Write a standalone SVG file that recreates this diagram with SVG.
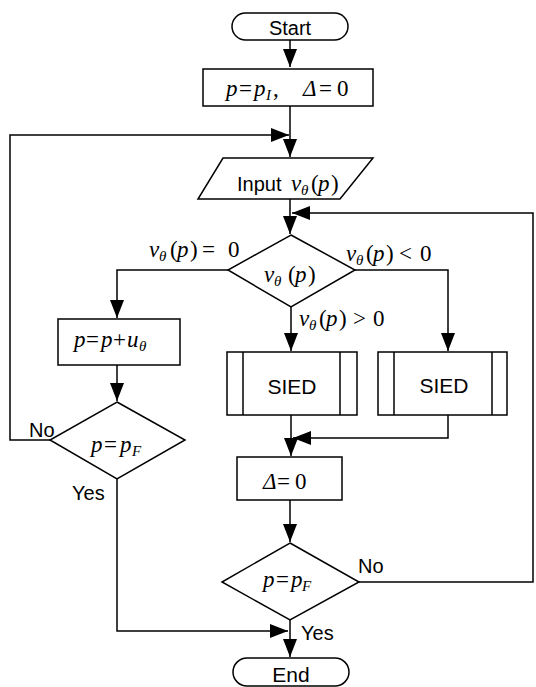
<svg xmlns="http://www.w3.org/2000/svg" width="536" height="687" viewBox="0 0 536 687">
  <defs>
    <marker id="arr" viewBox="0 0 18 14" refX="18" refY="7" markerWidth="18" markerHeight="14" markerUnits="userSpaceOnUse" orient="auto">
      <path d="M0,0 L18,7 L0,14 Z" fill="#000"/>
    </marker>
    <style>
      .shape { fill: #fff; stroke: #000; stroke-width: 1.5; }
      .line { fill: none; stroke: #000; stroke-width: 1.5; }
      .flow { fill: none; stroke: #000; stroke-width: 1.5; marker-end: url(#arr); }
      .sans { font-family: "Liberation Sans", Arial, sans-serif; font-size: 20px; fill: #000; }
      .big { font-size: 21px; }
      .math { font-family: "Liberation Serif", "Times New Roman", serif; font-size: 23px; fill: #000; }
      .it { font-style: italic; }
      .sub { font-size: 15px; font-style: italic; }
    </style>
  </defs>
  <rect width="536" height="687" fill="#fff"/>

  <!-- connectors -->
  <g id="connectors">
    <line class="flow" x1="290" y1="40" x2="290" y2="67"/>
    <line class="flow" x1="290" y1="106" x2="290" y2="157"/>
    <polyline class="flow" points="50,440 10,440 10,135 289,135"/>
    <line class="flow" x1="290" y1="199" x2="290" y2="234"/>
    <polyline class="flow" points="359,582 533,582 533,213 292,213"/>
    <polyline class="flow" points="228,270 117,270 117,318"/>
    <line class="flow" x1="117" y1="365" x2="117" y2="401"/>
    <line class="flow" x1="291" y1="307" x2="291" y2="351"/>
    <polyline class="flow" points="355,270 448,270 448,351"/>
    <line class="flow" x1="291" y1="415" x2="291" y2="456"/>
    <polyline class="flow" points="448,415 448,438 293,438"/>
    <line class="flow" x1="290" y1="500" x2="290" y2="542"/>
    <polyline class="flow" points="117,479 117,631 288,631"/>
    <line class="flow" x1="290" y1="620" x2="290" y2="657"/>
  </g>

  <!-- start terminal -->
  <g id="start">
    <rect class="shape" x="232" y="13" width="116" height="27" rx="13.5"/>
    <text class="sans" x="290" y="35" text-anchor="middle">Start</text>
  </g>

  <!-- initialisation -->
  <g id="init">
    <rect class="shape" x="203" y="69" width="170" height="37"/>
    <text class="math"><tspan class="it" x="226" y="96">p</tspan><tspan x="239" y="96">=</tspan><tspan class="it" x="254" y="96">p</tspan><tspan class="sub" x="266" y="100">I</tspan><tspan x="273" y="96">,</tspan><tspan class="it" x="303" y="96">Δ</tspan><tspan x="319" y="96">=</tspan><tspan x="337" y="96">0</tspan></text>
  </g>

  <!-- input -->
  <g id="input">
    <polygon class="shape" points="223,158 373,158 340,199 198,199"/>
    <text class="sans" x="237" y="191">Input</text>
    <text class="math"><tspan class="it" x="291" y="191">v</tspan><tspan class="sub" x="301" y="195">θ</tspan><tspan x="311" y="191">(</tspan><tspan class="it" x="318" y="191">p</tspan><tspan x="331" y="191">)</tspan></text>
  </g>

  <!-- sign decision -->
  <g id="decide-sign">
    <polygon class="shape" points="291,235 355,270 291,307 228,270"/>
    <text class="math"><tspan class="it" x="264" y="282">v</tspan><tspan class="sub" x="274" y="286">θ</tspan><tspan x="288" y="282">(</tspan><tspan class="it" x="295" y="282">p</tspan><tspan x="308" y="282">)</tspan></text>
  </g>

  <!-- branch labels -->
  <g id="labels">
    <text class="math"><tspan class="it" x="149" y="257">v</tspan><tspan class="sub" x="159" y="261">θ</tspan><tspan x="170" y="257">(</tspan><tspan class="it" x="177" y="257">p</tspan><tspan x="190" y="257">)</tspan><tspan x="202" y="257">=</tspan><tspan x="228" y="257">0</tspan></text>
    <text class="math"><tspan class="it" x="346" y="261">v</tspan><tspan class="sub" x="356" y="265">θ</tspan><tspan x="366" y="261">(</tspan><tspan class="it" x="373" y="261">p</tspan><tspan x="386" y="261">)</tspan><tspan x="399" y="261">&lt;</tspan><tspan x="420" y="261">0</tspan></text>
    <text class="math"><tspan class="it" x="299" y="326">v</tspan><tspan class="sub" x="309" y="330">θ</tspan><tspan x="319" y="326">(</tspan><tspan class="it" x="326" y="326">p</tspan><tspan x="339" y="326">)</tspan><tspan x="353" y="326">&gt;</tspan><tspan x="373" y="326">0</tspan></text>
    <text class="sans" x="29" y="437">No</text>
    <text class="sans" x="72" y="500">Yes</text>
    <text class="sans" x="358" y="573">No</text>
    <text class="sans" x="301" y="640">Yes</text>
  </g>

  <!-- step update -->
  <g id="step">
    <rect class="shape" x="58" y="319" width="122" height="46"/>
    <text class="math"><tspan class="it" x="74" y="347">p</tspan><tspan x="86" y="347">=</tspan><tspan class="it" x="101" y="347">p</tspan><tspan x="113" y="347">+</tspan><tspan class="it" x="127" y="347">u</tspan><tspan class="sub" x="139" y="351">θ</tspan></text>
  </g>

  <!-- end check (left) -->
  <g id="check-left">
    <polygon class="shape" points="117,402 185,440 117,479 50,440"/>
    <text class="math"><tspan class="it" x="91" y="452">p</tspan><tspan x="104" y="452">=</tspan><tspan class="it" x="120" y="452">p</tspan><tspan class="sub" x="132" y="456">F</tspan></text>
  </g>

  <!-- SIED (positive) -->
  <g id="sied-pos">
    <rect class="shape" x="227" y="352" width="130" height="63"/>
    <line class="line" x1="243" y1="352" x2="243" y2="415"/>
    <line class="line" x1="340" y1="352" x2="340" y2="415"/>
    <text class="sans big" x="292" y="394" text-anchor="middle">SIED</text>
  </g>

  <!-- SIED (negative) -->
  <g id="sied-neg">
    <rect class="shape" x="378" y="352" width="129" height="63"/>
    <line class="line" x1="394" y1="352" x2="394" y2="415"/>
    <line class="line" x1="492" y1="352" x2="492" y2="415"/>
    <text class="sans big" x="444" y="393" text-anchor="middle">SIED</text>
  </g>

  <!-- reset -->
  <g id="reset">
    <rect class="shape" x="237" y="457" width="105" height="43"/>
    <text class="math"><tspan class="it" x="263" y="489">Δ</tspan><tspan x="277" y="489">=</tspan><tspan x="295" y="489">0</tspan></text>
  </g>

  <!-- end check (right) -->
  <g id="check-right">
    <polygon class="shape" points="290,543 359,582 290,620 222,582"/>
    <text class="math"><tspan class="it" x="263" y="587">p</tspan><tspan x="276" y="587">=</tspan><tspan class="it" x="291" y="587">p</tspan><tspan class="sub" x="302" y="591">F</tspan></text>
  </g>

  <!-- end terminal -->
  <g id="end">
    <rect class="shape" x="233" y="658" width="116" height="28" rx="14"/>
    <text class="sans big" x="291" y="682" text-anchor="middle">End</text>
  </g>
</svg>
